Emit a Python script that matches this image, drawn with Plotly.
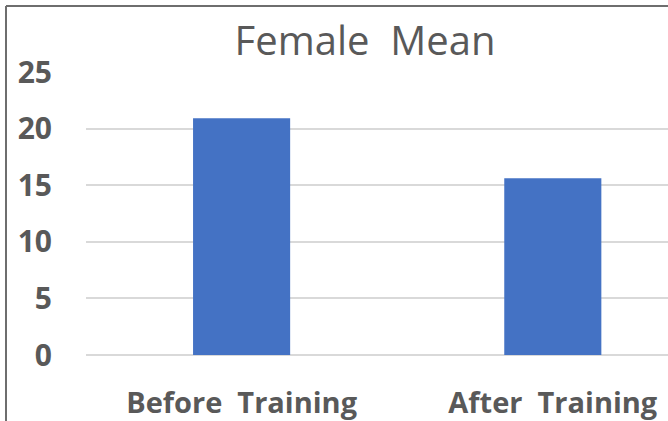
import plotly.graph_objects as go

# Mean scores for the female group
categories = ["Before  Training", "After  Training"]
mean_values = [20.94, 15.62]
y_ticks = [0, 5, 10, 15, 20, 25]

BAR_BLUE = "#4472C4"
TEXT_GRAY = "#595959"
GRID_GRAY = "#D9D9D9"
FONT = "'Open Sans', Lato, sans-serif"

W, H = 668, 421
L, R, T, B = 86, 0, 72, 66
plot_w = W - L - R
plot_h = H - T - B

fig = go.Figure(
    go.Bar(
        x=categories,
        y=mean_values,
        marker=dict(color=BAR_BLUE, line=dict(width=0)),
    )
)

# chart-area frame (left and top edges)
def px_to_paper_x(px):
    return (px - L) / plot_w

def px_to_paper_y(py):
    return (H - B - py) / plot_h

frame = dict(type="line", xref="paper", yref="paper",
             line=dict(color="#6E6E6E", width=2), layer="above")
fig.add_shape(**frame, x0=px_to_paper_x(6), x1=px_to_paper_x(6),
              y0=px_to_paper_y(6), y1=px_to_paper_y(H + 5))
fig.add_shape(**frame, x0=px_to_paper_x(6), x1=px_to_paper_x(W + 5),
              y0=px_to_paper_y(6), y1=px_to_paper_y(6))

fig.update_layout(
    width=W,
    height=H,
    margin=dict(l=L, r=R, t=T, b=B, pad=0),
    paper_bgcolor="white",
    plot_bgcolor="white",
    bargap=0.688,
    showlegend=False,
    title=dict(
        text="Female  Mean",
        x=365 / W, xref="container", xanchor="center",
        y=1 - 41 / H, yref="container", yanchor="middle",
        font=dict(family=FONT, size=40, color=TEXT_GRAY),
    ),
    font=dict(family=FONT, color=TEXT_GRAY),
)

fig.update_xaxes(
    range=[-0.5, plot_w / 311.2 - 0.5],
    showgrid=False,
    showline=False,
    ticks="",
    tickfont=dict(family=FONT, size=29, color=TEXT_GRAY, weight="bold"),
    ticklabelstandoff=28,
)
fig.update_yaxes(
    range=[0, 25.02],
    tickvals=y_ticks,
    showgrid=True,
    gridcolor=GRID_GRAY,
    gridwidth=1.5,
    zeroline=True,
    zerolinecolor=GRID_GRAY,
    zerolinewidth=1.5,
    showline=False,
    ticks="",
    tickfont=dict(family=FONT, size=30, color=TEXT_GRAY, weight="bold"),
    ticklabelstandoff=33,
)

fig.write_html("out.html")
